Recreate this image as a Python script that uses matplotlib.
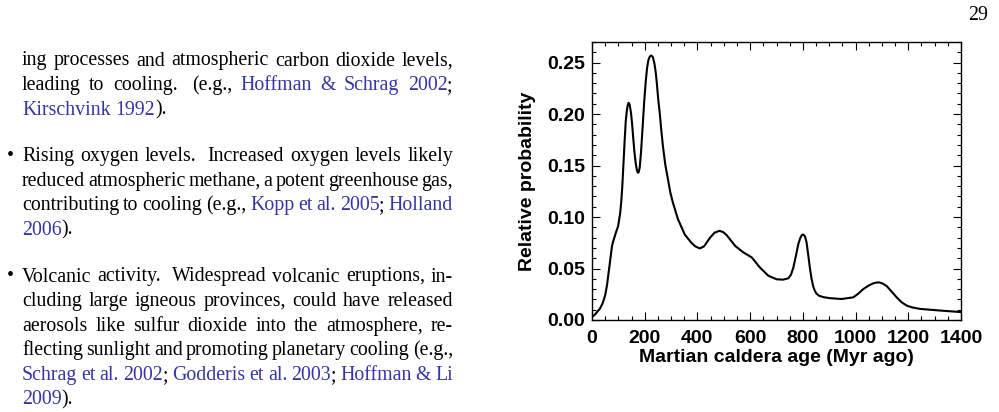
import matplotlib.pyplot as plt
import matplotlib.transforms as mtransforms
from matplotlib.ticker import MultipleLocator

# curve
age = [0, 10, 20, 30, 40, 50, 57, 63, 70, 76, 80, 86, 92, 99, 107, 111, 115,
       120, 124, 128, 132, 135, 139, 143, 148, 152, 156, 161, 166, 170, 174,
       177, 181, 186, 190, 193, 198, 204, 209, 214, 219, 225, 231, 237, 242,
       246, 251, 257, 263, 269, 278, 288, 297, 307, 326, 352, 377, 392, 409,
       425, 448, 465, 483, 497, 511, 543, 574, 606, 637, 669, 701, 725, 745,
       755, 764, 775, 783, 790, 796, 802, 808, 814, 820, 827, 833, 840, 846,
       852, 862, 878, 903, 947, 991, 1010, 1029, 1050, 1067, 1080, 1090, 1102,
       1118, 1137, 1156, 1175, 1194, 1215, 1244, 1320, 1400]
prob = [0.003, 0.005, 0.008, 0.011, 0.016, 0.024, 0.034, 0.046, 0.060, 0.072,
        0.076, 0.081, 0.086, 0.091, 0.104, 0.115, 0.130, 0.155, 0.175, 0.193,
        0.203, 0.208, 0.211, 0.209, 0.201, 0.191, 0.178, 0.163, 0.152, 0.146,
        0.143, 0.1435, 0.148, 0.163, 0.179, 0.191, 0.212, 0.232, 0.245, 0.2525,
        0.2558, 0.257, 0.2552, 0.249, 0.240, 0.230, 0.215, 0.201, 0.184, 0.169,
        0.151, 0.137, 0.124, 0.114, 0.098, 0.083, 0.075, 0.0715, 0.0695,
        0.0715, 0.080, 0.0848, 0.0866, 0.0855, 0.0824, 0.072, 0.0657, 0.0608,
        0.051, 0.043, 0.0395, 0.0392, 0.0405, 0.044, 0.051, 0.064, 0.074,
        0.0795, 0.0825, 0.083, 0.0812, 0.0755, 0.064, 0.050, 0.040, 0.032,
        0.028, 0.0255, 0.0235, 0.0222, 0.0212, 0.0204, 0.022, 0.0255, 0.030,
        0.0335, 0.0356, 0.0364, 0.0365, 0.0355, 0.033, 0.0275, 0.022, 0.0172,
        0.014, 0.0122, 0.0108, 0.0092, 0.0077]

xticks = [0, 200, 400, 600, 800, 1000, 1200, 1400]
yticks = [0.00, 0.05, 0.10, 0.15, 0.20, 0.25]

# page text, [..] marks a citation link, double space = sentence gap
para_lines = [
    ("ing processes and atmospheric carbon dioxide levels,", True, False),
    ("leading to cooling.  (e.g., [Hoffman] [&] [Schrag] [2002];", True, False),
    ("[Kirschvink] [1992]).", False, False),
    ("Rising oxygen levels.  Increased oxygen levels likely", True, True),
    ("reduced atmospheric methane, a potent greenhouse gas,", True, False),
    ("contributing to cooling (e.g., [Kopp] [et] [al.] [2005]; [Holland]", True, False),
    ("[2006]).", False, False),
    ("Volcanic activity.  Widespread volcanic eruptions, in-", True, True),
    ("cluding large igneous provinces, could have released", True, False),
    ("aerosols like sulfur dioxide into the atmosphere, re-", True, False),
    ("flecting sunlight and promoting planetary cooling (e.g.,", True, False),
    ("[Schrag] [et] [al.] [2002]; [Godderis] [et] [al.] [2003]; [Hoffman] [&] [Li]", True, False),
    ("[2009]).", False, False),
]
baselines = [65.5, 90, 114.6, 161, 185.6, 210.2, 234.8,
             281.5, 306.1, 330.7, 355.3, 379.9, 404.5]

W, H = 999, 412
link = '#3535a5'
serif = 'Liberation Serif'
fs_text = 14.3

fig = plt.figure(figsize=(W / 100, H / 100), dpi=100)
renderer = fig.canvas.get_renderer()
pix = mtransforms.IdentityTransform()


def pieces(word):
    out = []
    buf = ''
    blue = False
    for ch in word:
        if ch == '[':
            if buf:
                out.append((buf, 'black'))
            buf, blue = '', True
        elif ch == ']':
            out.append((buf, link))
            buf, blue = '', False
        else:
            buf += ch
    if buf:
        out.append((buf, link if blue else 'black'))
    return out


def measure(s):
    t = fig.text(0, 0, s, fontsize=fs_text, family=serif, transform=pix)
    w = t.get_window_extent(renderer).width
    t.remove()
    return w


bar_w = measure('|')


def advance(s):
    # width up to where the next glyph would start
    if not s:
        return 0
    return measure(s + '|') - bar_w


space_w = measure('a a') - measure('aa')
x0, x1 = 22, 453

for (line, justify, bullet), yb in zip(para_lines, baselines):
    y = H - yb
    words, weights = [], []
    for tok in line.split(' '):
        if tok == '':
            weights[-1] = 1.8
            continue
        words.append(pieces(tok))
        weights.append(1.0)
    weights = weights[:-1]
    plain = [''.join(p for p, c in w) for w in words]
    widths = [advance(s) for s in plain]
    # last word is flush with the right edge by its ink
    total = sum(widths[:-1]) + measure(plain[-1])
    if justify and len(words) > 1:
        unit = (x1 - x0 - total) / sum(weights)
    else:
        unit = space_w
    x = x0
    for i, (w, ww) in enumerate(zip(words, widths)):
        prefix = ''
        for p, c in w:
            fig.text(x + advance(prefix), y, p, fontsize=fs_text, family=serif,
                     color=c, transform=pix, va='baseline')
            prefix += p
        if i < len(weights):
            x += ww + unit * weights[i]
    if bullet:
        fig.text(7, y, '\u2022', fontsize=fs_text, family=serif,
                 transform=pix, va='baseline')

fig.text(988, H - 20, '29', fontsize=fs_text, family=serif, transform=pix,
         ha='right', va='baseline')

# the chart
ax = fig.add_axes([592 / W, (H - 320) / H, 369 / W, 278 / H])
ax.plot(age, prob, color='black', lw=1.5)
ax.set_xlim(0, 1400)
ax.set_ylim(0, 0.27)
ax.set_xticks(xticks)
ax.set_yticks(yticks)
ax.set_yticklabels(['%.2f' % v for v in yticks])
ax.xaxis.set_minor_locator(MultipleLocator(50))
ax.yaxis.set_minor_locator(MultipleLocator(0.01))
ax.tick_params(which='both', direction='in', top=True, right=True, width=0.8)
ax.tick_params(which='major', length=6)
ax.tick_params(axis='y', which='major', pad=5)
ax.tick_params(axis='x', which='major', pad=7)
ax.tick_params(which='minor', length=3)
for lab in ax.get_xticklabels() + ax.get_yticklabels():
    lab.set_family('Liberation Sans')
    lab.set_fontweight('bold')
    lab.set_fontsize(14)
for s in ax.spines.values():
    s.set_linewidth(1.0)
ax.set_xlabel('Martian caldera age (Myr ago)', family='Liberation Sans',
              fontweight='bold', fontsize=14, labelpad=2)
ax.set_ylabel('Relative probability', family='Liberation Sans',
              fontweight='bold', fontsize=14, labelpad=8)

fig.savefig('out.png', dpi=100)
